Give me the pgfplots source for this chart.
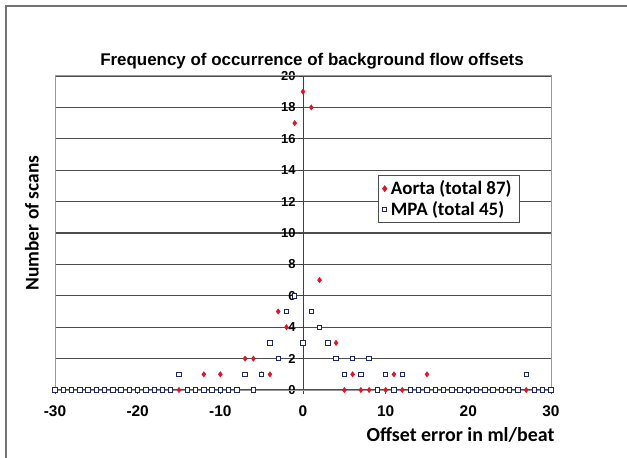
\documentclass[border=0pt]{standalone}
\usepackage{pgfplots}
\pgfplotsset{compat=1.18}
\usepackage{pgfplotstable}
\usepackage{fontspec}
\setmainfont{Liberation Sans}
\newfontfamily\calibri{Carlito}

\definecolor{aortared}{RGB}{218,22,40}
\definecolor{mpanavy}{RGB}{30,40,95}

% counts per 1 ml/beat bin, -30..30
\pgfplotstableread{
x   aorta mpa
-30 0 0
-29 0 0
-28 0 0
-27 0 0
-26 0 0
-25 0 0
-24 0 0
-23 0 0
-22 0 0
-21 0 0
-20 0 0
-19 0 0
-18 0 0
-17 0 0
-16 0 0
-15 0 1
-14 0 0
-13 0 0
-12 1 0
-11 0 0
-10 1 0
-9  0 0
-8  0 0
-7  2 1
-6  2 0
-5  1 1
-4  1 3
-3  5 2
-2  4 5
-1  17 6
0   19 3
1   18 5
2   7 4
3   3 3
4   3 2
5   0 1
6   1 2
7   0 1
8   0 2
9   0 0
10  0 1
11  1 0
12  0 1
13  0 0
14  0 0
15  1 0
16  0 0
17  0 0
18  0 0
19  0 0
20  0 0
21  0 0
22  0 0
23  0 0
24  0 0
25  0 0
26  0 0
27  0 1
28  0 0
29  0 0
30  0 0
}\offsets

\begin{document}
\begin{tikzpicture}
\path[use as bounding box] (0,0) rectangle (627bp,458bp);
\begin{axis}[
    at={(55bp,68bp)}, anchor=south west,
    scale only axis,
    width=496bp, height=314bp,
    xmin=-30, xmax=30, ymin=0, ymax=20,
    axis y line=center, axis x line=bottom,
    axis line style={-, black!75, line width=1bp},
    hide obscured y ticks=false,
    hide obscured x ticks=false,
    xtick={-30,-20,...,30},
    ytick={0,2,...,20},
    ymajorgrids,
    grid style={black!70, line width=1.1bp},
    tick style={black!75, line width=0.8bp},
    tick align=outside,
    major tick length=4bp,
    /pgf/number format/assume math mode=true,
    x tick label style={font=\bfseries\fontsize{15.5}{15.5}\selectfont, yshift=-8bp},
    y tick label style={font=\bfseries\fontsize{13}{13}\selectfont},
    clip=false,
    legend style={
        at={(0.9375,0.685)}, anchor=north east,
        draw=black!70, line width=1bp, fill=white,
        font=\calibri\bfseries\fontsize{19}{21}\selectfont,
        inner xsep=4bp, inner ysep=3bp,
        nodes={inner xsep=4bp, inner ysep=2.5bp},
        row sep=0bp,
    },
    legend cell align=left,
]
\draw[black!40, line width=1bp] (rel axis cs:0,0) rectangle (rel axis cs:1,1);
\addplot[only marks, mark=diamond*, mark size=2.7bp, color=aortared]
    table[x=x, y=aorta] {\offsets};
\addlegendentry{Aorta (total 87)}
\addplot[only marks, mark=square*, mark size=2.2bp, draw=mpanavy, fill=white, line width=0.9bp]
    table[x=x, y=mpa] {\offsets};
\addlegendentry{MPA (total 45)}
\end{axis}
\node[font=\bfseries\fontsize{17}{17}\selectfont] at (312bp,397bp)
    {Frequency of occurrence of background flow offsets};
\node[rotate=90, font=\calibri\bfseries\fontsize{19.5}{19.5}\selectfont] at (32bp,235bp)
    {Number of scans};
\node[anchor=base east, font=\calibri\bfseries\fontsize{20}{20}\selectfont] at (558bp,17bp)
    {Offset error in ml/beat};
\draw[black!55, line width=1.6bp] (6bp,-2bp) -- (6bp,452bp) -- (630bp,452bp);
\end{tikzpicture}
\end{document}
